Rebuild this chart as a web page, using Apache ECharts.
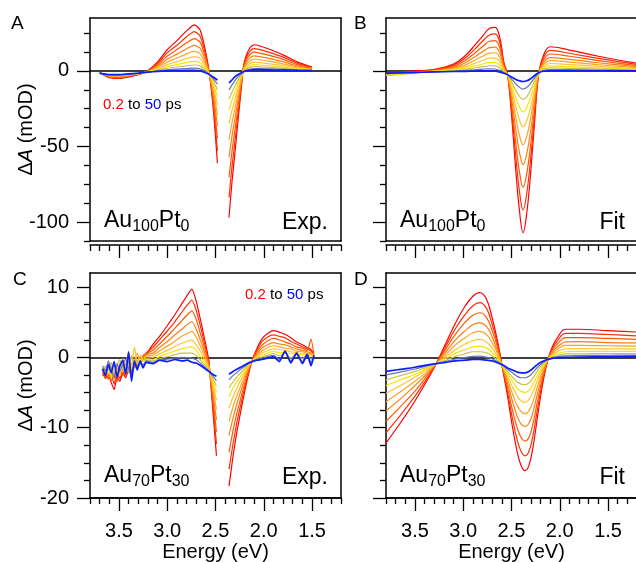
<!DOCTYPE html>
<html>
<head>
<meta charset="utf-8">
<script src="https://cdn.jsdelivr.net/npm/echarts@6.0.0/dist/echarts.min.js"></script>
<style>
  html, body { margin: 0; padding: 0; background: #fff; }
  #chart { width: 636px; height: 562px; }
</style>
</head>
<body>
<div id="chart"></div>
<script>
// ---- tick positions ----
const energyMajorTicks = [1.5, 2.0, 2.5, 3.0, 3.5];
const energyMinorTicks = [1.2, 1.3, 1.4, 1.6, 1.7, 1.8, 1.9, 2.1, 2.2, 2.3, 2.4, 2.6, 2.7, 2.8, 2.9, 3.1, 3.2, 3.3, 3.4, 3.6, 3.7, 3.8];
const au100MajorTicks = [-100, -50, 0];
const au100MinorTicks = [-112.5, -87.5, -75, -62.5, -37.5, -25, -12.5, 12.5, 25];
const au70MajorTicks = [-20, -10, 0, 10];
const au70MinorTicks = [-17.5, -15, -12.5, -7.5, -5, -2.5, 2.5, 5, 7.5];

// ---- Au100Pt0, measured (panel A): two spectral windows around the pump ----
// rows run from 0.2 ps (first) to 50 ps (last)
const expAu100LeftE = [3.70, 3.60, 3.50, 3.40, 3.30, 3.20, 3.10, 3.00, 2.90, 2.80, 2.72, 2.66, 2.61, 2.565, 2.52, 2.48];
const expAu100Left = [
  [-1, -4.5, -5, -4, -2.5, 0.3, 6, 14, 20, 26.5, 30.5, 27.2, 15, -1, -27, -61],
  [-1.1, -4.2, -4.6, -3.7, -2.4, 0.1, 5.1, 11.9, 17.0, 22.6, 26.0, 23.1, 12.6, -1.2, -23.6, -52.8],
  [-1.2, -3.9, -4.3, -3.4, -2.2, 0, 4.1, 9.8, 14.1, 18.6, 21.4, 19.0, 10.2, -1.4, -20.2, -44.5],
  [-1.2, -3.6, -3.9, -3.1, -2.05, -0.2, 3.2, 7.7, 11.1, 14.7, 16.9, 15.0, 7.8, -1.6, -16.7, -36.3],
  [-1.3, -3.3, -3.6, -2.8, -1.9, -0.3, 2.3, 5.9, 8.5, 11.3, 13.0, 11.4, 5.7, -1.8, -13.8, -29.1],
  [-1.35, -3.1, -3.25, -2.6, -1.8, -0.5, 1.6, 4.2, 6.1, 8.2, 9.4, 8.2, 3.8, -1.9, -11, -22.5],
  [-1.4, -2.9, -3.0, -2.4, -1.7, -0.6, 1.0, 2.8, 4.2, 5.5, 6.3, 5.4, 2.2, -2.0, -8.8, -17],
  [-1.4, -2.7, -2.8, -2.2, -1.6, -0.7, 0.5, 1.7, 2.6, 3.4, 3.9, 3.3, 0.9, -2.1, -6.9, -12.6],
  [-1.5, -2.6, -2.6, -2.1, -1.55, -0.75, 0, 0.7, 1.2, 1.6, 1.8, 1.4, -0.2, -2.2, -5.3, -8.8],
  [-1.5, -2.5, -2.5, -2, -1.5, -0.8, -0.3, 0, 0.2, 0.3, 0.3, 0, -1, -2.3, -4.2, -6]
];
const expAu100RightE = [2.36, 2.33, 2.30, 2.27, 2.24, 2.21, 2.18, 2.14, 2.10, 2.04, 1.95, 1.80, 1.65, 1.50];
const expAu100Right = [
  [-97, -74, -55, -35, -16, 3, 10.5, 15.5, 17.3, 16.5, 14.5, 10.6, 5.8, 2.5],
  [-83.7, -63.8, -47.4, -30.1, -13.8, 2.5, 8.9, 13.3, 14.8, 14.1, 12.4, 9.1, 5.0, 2.2],
  [-70.3, -53.6, -39.7, -25.3, -11.7, 2.0, 7.4, 11.0, 12.4, 11.8, 10.4, 7.6, 4.2, 1.8],
  [-57, -43.4, -32, -20.4, -9.5, 1.4, 5.8, 8.8, 9.9, 9.4, 8.3, 6.1, 3.3, 1.5],
  [-45.4, -34.6, -25.4, -16.2, -7.6, 1.0, 4.4, 6.8, 7.7, 7.4, 6.5, 4.7, 2.6, 1.2],
  [-34.7, -26.4, -19.3, -12.3, -5.9, 0.6, 3.2, 5.0, 5.8, 5.5, 4.8, 3.5, 2.0, 0.9],
  [-25.8, -19.6, -14.2, -9, -4.4, 0.2, 2.1, 3.5, 4.1, 3.9, 3.5, 2.5, 1.4, 0.7],
  [-18.7, -14.2, -10.1, -6.4, -3.2, -0.1, 1.3, 2.3, 2.8, 2.7, 2.4, 1.7, 1.0, 0.5],
  [-12.5, -9.4, -6.6, -4.1, -2.2, -0.3, 0.5, 1.25, 1.6, 1.6, 1.4, 1.0, 0.6, 0.3],
  [-8, -6, -4, -2.5, -1.5, -0.5, 0, 0.5, 0.8, 0.8, 0.7, 0.5, 0.3, 0.2]
];

// ---- Au100Pt0, fitted (panel B) ----
const fitAu100E = [3.80, 3.55, 3.30, 3.10, 2.98, 2.88, 2.80, 2.73, 2.67, 2.62, 2.58, 2.54, 2.50, 2.46, 2.42, 2.38, 2.34, 2.30, 2.26, 2.22, 2.17, 2.10, 1.90, 1.60, 1.20];
const fitAu100 = [
  [-1, -0.2, 1, 4.5, 10, 17, 23, 28, 28.8, 21.7, 6, -3, -29, -62, -91, -107, -93, -66, -33, -3, 10, 16, 13.8, 9.7, 5],
  [-1.5, -0.6, 0.7, 3.8, 8.5, 14.4, 19.6, 23.8, 24.5, 18.3, 4.9, -2.9, -25.3, -53.5, -78.3, -92, -80, -56.9, -28.5, -2.7, 8.5, 13.6, 11.7, 8.3, 4.25],
  [-2.2, -1.0, 0.5, 3.0, 6.9, 11.9, 16.1, 19.6, 20.1, 15.0, 3.75, -2.85, -21.5, -45.1, -65.7, -77, -67.1, -47.7, -24, -2.5, 6.9, 11.2, 9.7, 6.8, 3.5],
  [-2.8, -1.4, 0.2, 2.3, 5.4, 9.3, 12.65, 15.4, 15.75, 11.6, 2.6, -2.8, -17.75, -36.6, -53, -62, -54.1, -38.6, -19.5, -2.2, 5.4, 8.8, 7.6, 5.4, 2.75],
  [-3.0, -1.6, 0, 1.7, 4.0, 7.1, 9.7, 11.8, 12.0, 8.65, 1.65, -2.7, -14.5, -29.2, -42, -49, -42.8, -30.6, -15.6, -1.95, 4.1, 6.8, 5.85, 4.1, 2.1],
  [-2.9, -1.6, -0.2, 1.1, 2.8, 5.0, 6.9, 8.4, 8.5, 5.95, 0.75, -2.65, -11.5, -22.5, -31.9, -37, -32.5, -23.3, -12, -1.7, 2.9, 4.9, 4.2, 3.0, 1.5],
  [-2.6, -1.5, -0.36, 0.6, 1.8, 3.3, 4.6, 5.6, 5.6, 3.7, 0, -2.6, -9, -16.8, -23.4, -27, -23.8, -17.2, -9, -1.56, 1.8, 3.3, 2.8, 2.0, 1.0],
  [-2.2, -1.3, -0.5, 0.2, 0.9, 1.95, 2.8, 3.4, 3.3, 1.9, -0.6, -2.56, -7, -12.3, -16.6, -19, -16.9, -12.3, -6.6, -1.4, 1.0, 2.0, 1.7, 1.25, 0.6],
  [-1.8, -1.2, -0.6, -0.15, 0.2, 0.75, 1.15, 1.4, 1.25, 0.3, -1.1, -2.5, -5.25, -8.3, -10.7, -12, -10.8, -8, -4.5, -1.3, 0.3, 0.9, 0.8, 0.6, 0.25],
  [-1.5, -1.1, -0.7, -0.4, -0.3, -0.1, 0, 0, -0.2, -0.8, -1.5, -2.5, -4, -5.5, -6.5, -7, -6.5, -5, -3, -1.2, -0.2, 0.1, 0.1, 0.1, 0]
];

// ---- Au70Pt30, measured (panel C) ----
const expAu70LeftE = [3.67, 3.64, 3.61, 3.58, 3.55, 3.52, 3.49, 3.46, 3.43, 3.40, 3.37, 3.34, 3.31, 3.28, 3.25, 3.22, 3.15, 3.08, 3.00, 2.92, 2.85, 2.79, 2.745, 2.70, 2.65, 2.61, 2.57, 2.53, 2.49];
const expAu70Left = [
  [-2.2, -3.0, -2.4, -3.6, -4.6, -2.8, -3.4, -2.2, -2.9, -1.8, -2.3, -1.2, -1.0, -0.5, -0.1, 0.4, 1.8, 3, 4.5, 6.1, 7.6, 8.9, 9.7, 8.0, 5.0, 2.4, -0.4, -7, -14],
  [-2.6, -2.0, -3.1, -2.5, -3.8, -2.2, -3.0, -1.9, -2.6, -1.4, -2.0, -0.8, -1.2, -0.2, 0.1, 0.6, 1.4, 2.5, 3.75, 5.1, 6.4, 7.5, 8.15, 6.7, 4.1, 1.8, -0.6, -6.3, -12.3],
  [-1.9, -2.8, -2.2, -3.3, -2.6, -3.5, -1.8, -2.6, -1.5, -2.2, -0.9, -1.5, -0.4, -0.8, 0.3, 0.5, 1.0, 1.9, 3.0, 4.15, 5.2, 6.1, 6.6, 5.4, 3.1, 1.2, -0.9, -5.6, -10.6],
  [-2.4, -1.7, -2.9, -2.0, -3.0, -1.6, -2.4, -1.2, -2.7, -0.6, -1.8, -0.2, -1.0, 0.2, -0.3, 0.4, 0.6, 1.4, 2.25, 3.2, 4.0, 4.7, 5.1, 4.0, 2.2, 0.6, -1.1, -4.9, -8.9],
  [-1.8, -2.5, -1.5, -2.7, -1.9, -2.3, -0.8, -2.1, -0.9, 0.8, -1.4, -0.5, 0.6, -0.6, 0.1, 0.2, 0.3, 0.9, 1.6, 2.3, 3.0, 3.4, 3.7, 2.9, 1.4, 0.1, -1.3, -4.3, -7.4],
  [-2.1, -1.4, -2.4, -1.2, -2.2, -1.0, -2.6, -0.6, -1.7, -0.3, -1.2, 1.5, -0.8, 0.2, -0.4, 0.1, 0, 0.5, 1.0, 1.55, 2.0, 2.3, 2.5, 1.8, 0.7, -0.4, -1.5, -3.8, -6.1],
  [-1.5, -2.3, -1.1, -2.9, -0.8, -2.0, -1.4, -0.2, -2.2, 0.9, -1.6, -0.4, -0.9, -0.2, -0.6, -0.2, -0.3, 0.1, 0.5, 0.9, 1.2, 1.4, 1.5, 1.0, 0, -0.8, -1.7, -3.3, -5],
  [-2.3, -1.2, -1.8, -0.7, -2.5, -1.1, -0.3, -1.9, -0.8, -2.2, 0.3, -1.3, -0.6, -1.0, -0.3, -0.4, -0.5, -0.2, 0.1, 0.4, 0.6, 0.6, 0.6, 0.3, -0.5, -1.1, -1.8, -2.95, -4.1],
  [-1.2, -2.0, -0.5, -1.7, -2.9, -0.9, -1.9, -1.0, -0.2, -1.6, -2.7, -0.3, -1.5, -0.7, -1.1, -0.5, -0.7, -0.4, -0.25, -0.1, 0, -0.03, -0.1, -0.35, -0.9, -1.4, -1.9, -2.6, -3.3],
  [-1.6, -2.6, -1.0, -2.2, -0.6, -2.8, -1.2, -0.4, -2.4, 0.8, -3.4, -0.6, -1.8, -0.5, -1.5, -0.7, -0.9, -0.4, -0.6, -0.3, -0.5, -0.4, -0.7, -0.8, -1.2, -1.6, -2.0, -2.4, -2.7]
];
const expAu70RightE = [2.36, 2.32, 2.28, 2.24, 2.20, 2.16, 2.12, 2.07, 2.02, 1.96, 1.90, 1.84, 1.78, 1.72, 1.66, 1.60, 1.55, 1.51, 1.48];
const expAu70Right = [
  [-18.3, -14.2, -10.7, -7.8, -5.0, -2.5, -0.4, 1.3, 2.6, 3.4, 3.8, 3.6, 3.3, 2.8, 2.2, 1.8, 1.4, 1.1, 0.6],
  [-15.9, -12.4, -9.35, -6.8, -4.4, -2.25, -0.43, 1.05, 2.2, 2.9, 3.2, 3.0, 2.8, 2.3, 1.9, 1.5, 1.2, 0.9, 0.5],
  [-13.5, -10.5, -8.0, -5.9, -3.8, -2.0, -0.46, 0.8, 1.7, 2.35, 2.7, 2.5, 2.2, 1.9, 1.5, 1.3, 1.0, 2.6, 0.4],
  [-11.1, -8.7, -6.65, -4.9, -3.2, -1.7, -0.5, 0.5, 1.3, 1.8, 2.1, 1.9, 1.8, 1.5, 1.2, 1.0, 0.8, 0.6, 0.3],
  [-9.1, -7.1, -5.5, -4.1, -2.7, -1.5, -0.5, 0.3, 0.9, 1.4, 1.65, 1.5, 1.3, 1.2, 0.9, 0.8, 0.6, 0.5, 0.25],
  [-7.2, -5.7, -4.4, -3.3, -2.3, -1.3, -0.54, 0.1, 0.6, 0.95, 1.2, 1.1, 1.0, 0.8, 0.7, 0.5, 0.4, 0.35, 0.2],
  [-5.6, -4.4, -3.5, -2.7, -1.9, -1.14, -0.56, -0.06, 0.3, 0.6, 0.84, 0.7, 0.65, 0.55, 0.45, 0.35, 0.3, 0.2, 0.1],
  [-4.3, -3.5, -2.8, -2.2, -1.6, -1.0, -0.58, -0.2, 0.05, 0.3, 0.55, 0.2, 0.7, -0.1, 0.5, -0.2, 0.4, -0.3, 0.2],
  [-3.2, -2.6, -2.15, -1.7, -1.3, -0.9, -0.6, -0.3, -0.15, 0.1, 0.3, -0.3, 0.8, -0.5, 0.6, -0.6, 0.5, -0.8, 0.3],
  [-2.4, -2.0, -1.7, -1.4, -1.1, -0.8, -0.6, -0.4, -0.3, -0.1, 0.1, -0.6, 0.9, -0.8, 0.6, -0.9, 0.4, -1.2, 0.3]
];

// ---- Au70Pt30, fitted (panel D) ----
const fitAu70E = [3.80, 3.65, 3.50, 3.38, 3.28, 3.18, 3.08, 2.98, 2.90, 2.83, 2.76, 2.70, 2.64, 2.59, 2.54, 2.49, 2.44, 2.40, 2.36, 2.32, 2.28, 2.23, 2.18, 2.13, 2.08, 2.02, 1.94, 1.80, 1.50, 1.20];
const fitAu70 = [
  [-12.2, -9.3, -6.2, -3.4, -0.9, 2.0, 4.9, 7.3, 8.7, 9.2, 8.3, 5.6, 2.0, -1.8, -5.6, -9.9, -13.5, -15.4, -16.1, -15.4, -13.0, -8.4, -4.0, -0.7, 1.4, 2.9, 4.0, 4.0, 3.8, 3.6],
  [-10.7, -8.2, -5.5, -3.1, -0.9, 1.6, 4.1, 6.1, 7.35, 7.8, 7.0, 4.7, 1.6, -1.7, -5.0, -8.7, -11.8, -13.4, -14.0, -13.4, -11.3, -7.3, -3.5, -0.64, 1.15, 2.45, 3.4, 3.4, 3.25, 3.05],
  [-9.1, -7.0, -4.8, -2.7, -0.9, 1.2, 3.3, 5.0, 6.0, 6.35, 5.7, 3.8, 1.2, -1.6, -4.4, -7.5, -10.1, -11.4, -11.9, -11.4, -9.6, -6.2, -3.0, -0.58, 0.95, 2.0, 2.8, 2.8, 2.7, 2.55],
  [-7.6, -5.9, -4.0, -2.4, -0.9, 0.8, 2.5, 3.8, 4.65, 4.9, 4.4, 2.9, 0.7, -1.5, -3.75, -6.25, -8.4, -9.5, -9.8, -9.4, -7.9, -5.1, -2.5, -0.5, 0.7, 1.55, 2.2, 2.25, 2.1, 2.05],
  [-6.3, -4.9, -3.4, -2.1, -0.9, 0.4, 1.8, 2.8, 3.5, 3.7, 3.25, 2.1, 0.4, -1.4, -3.2, -5.2, -6.9, -7.7, -8.0, -7.6, -6.4, -4.1, -2.0, -0.47, 0.5, 1.2, 1.7, 1.7, 1.65, 1.6],
  [-5.1, -4.0, -2.8, -1.8, -0.9, 0.1, 1.1, 1.9, 2.4, 2.55, 2.2, 1.3, 0, -1.3, -2.7, -4.2, -5.5, -6.2, -6.4, -6.0, -5.0, -3.2, -1.6, -0.42, 0.3, 0.85, 1.2, 1.25, 1.2, 1.2],
  [-4.0, -3.2, -2.4, -1.6, -0.9, -0.16, 0.6, 1.1, 1.5, 1.6, 1.35, 0.7, -0.24, -1.24, -2.3, -3.4, -4.4, -4.8, -5.0, -4.7, -3.9, -2.5, -1.3, -0.38, 0.16, 0.55, 0.8, 0.85, 0.84, 0.85],
  [-3.2, -2.6, -2.0, -1.4, -0.9, -0.4, 0.15, 0.5, 0.8, 0.8, 0.65, 0.2, -0.46, -1.2, -2.0, -2.8, -3.5, -3.8, -3.9, -3.6, -3.0, -1.9, -1.0, -0.35, 0.04, 0.3, 0.5, 0.5, 0.55, 0.55],
  [-2.5, -2.1, -1.65, -1.2, -0.9, -0.56, -0.23, 0, 0.15, 0.18, 0.03, -0.2, -0.66, -1.1, -1.7, -2.2, -2.7, -2.9, -2.9, -2.7, -2.2, -1.4, -0.8, -0.32, -0.07, 0.1, 0.2, 0.25, 0.3, 0.32],
  [-2.0, -1.7, -1.4, -1.1, -0.9, -0.7, -0.5, -0.4, -0.3, -0.3, -0.4, -0.5, -0.8, -1.1, -1.5, -1.8, -2.1, -2.2, -2.2, -2.0, -1.6, -1.0, -0.6, -0.3, -0.15, -0.05, 0, 0.05, 0.1, 0.15]
];

// ---- styling ----
const FONT = "'Liberation Sans', Arial, Helvetica, sans-serif";
const curveColors = ['#ff0000', '#ff2e00', '#ff5800', '#ff7e10', '#ffa224', '#ffc430', '#f8e400', '#c6c44a', '#6a72b4', '#0a1eff'];
const curveWidths = [1.2, 1.2, 1.2, 1.2, 1.2, 1.2, 1.2, 1.2, 1.2, 1.7];
const frameLine = { color: '#000', width: 1.5 };
const tickLine = { color: '#000', width: 1.3 };

const panels = [
  { box: { left: 90, top: 18, width: 251, height: 223 }, yMin: -112.5, yMax: 35, yMajor: au100MajorTicks, yMinor: au100MinorTicks, xLabels: false, yLabels: true, xOffset: 4 },
  { box: { left: 386, top: 18, width: 251, height: 223 }, yMin: -112.5, yMax: 35, yMajor: au100MajorTicks, yMinor: au100MinorTicks, xLabels: false, yLabels: false, xOffset: 4 },
  { box: { left: 90, top: 273, width: 251, height: 225 }, yMin: -20, yMax: 12, yMajor: au70MajorTicks, yMinor: au70MinorTicks, xLabels: true, yLabels: true, xOffset: 0 },
  { box: { left: 386, top: 273, width: 251, height: 225 }, yMin: -20, yMax: 12, yMajor: au70MajorTicks, yMinor: au70MinorTicks, xLabels: true, yLabels: false, xOffset: 0 }
];

const grid = [], xAxis = [], yAxis = [], series = [];

panels.forEach((p, g) => {
  grid.push(Object.assign({ containLabel: false, outerBoundsMode: 'none', show: false }, p.box));

  const xb = { gridIndex: g, type: 'value', min: 1.2, max: 3.8, inverse: true, splitLine: { show: false }, silent: true };
  const hidden = { axisTick: { show: false }, axisLabel: { show: false } };
  // energy axis with major ticks and labels
  xAxis.push(Object.assign({}, xb, {
    position: 'bottom', offset: p.xOffset,
    axisLine: { show: true, onZero: false, lineStyle: frameLine },
    axisTick: { show: true, customValues: energyMajorTicks, length: 13, lineStyle: tickLine },
    axisLabel: { show: p.xLabels, customValues: energyMajorTicks, formatter: v => v.toFixed(1), fontSize: 20, fontFamily: FONT, color: '#000', margin: 23 },
    name: p.xLabels ? 'Energy (eV)' : '', nameLocation: 'middle', nameGap: 44, nameMoveOverlap: false,
    nameTextStyle: { fontSize: 20, fontFamily: FONT, color: '#000' }
  }));
  // minor energy ticks
  xAxis.push(Object.assign({}, xb, {
    position: 'bottom', offset: p.xOffset,
    axisLine: { show: false, onZero: false },
    axisTick: { show: true, customValues: energyMinorTicks, length: 6, lineStyle: tickLine },
    axisLabel: { show: false }
  }));
  // frame: top and bottom edges
  xAxis.push(Object.assign({}, xb, hidden, { position: 'top', axisLine: { show: true, onZero: false, lineStyle: frameLine } }));
  xAxis.push(Object.assign({}, xb, hidden, { position: 'bottom', offset: 0, axisLine: { show: true, onZero: false, lineStyle: frameLine } }));
  // zero line
  xAxis.push(Object.assign({}, xb, hidden, { position: 'bottom', axisLine: { show: true, onZero: true, lineStyle: frameLine } }));

  const yb = { gridIndex: g, type: 'value', min: p.yMin, max: p.yMax, splitLine: { show: false }, silent: true };
  yAxis.push(Object.assign({}, yb, {
    position: 'left',
    axisLine: { show: true, onZero: false, lineStyle: frameLine },
    axisTick: { show: true, customValues: p.yMajor, length: 13, lineStyle: tickLine },
    axisLabel: { show: p.yLabels, customValues: p.yMajor, fontSize: 20, fontFamily: FONT, color: '#000', margin: 21 },
    name: p.yLabels ? '{d|Δ}{i|A}{d| (mOD)}' : '', nameLocation: 'middle', nameRotate: 90, nameGap: 54, nameMoveOverlap: false,
    nameTextStyle: {
      fontSize: 20, fontFamily: FONT, color: '#000',
      rich: { d: { fontSize: 20, fontFamily: FONT, color: '#000' }, i: { fontSize: 20, fontFamily: FONT, fontStyle: 'italic', color: '#000' } }
    }
  }));
  yAxis.push(Object.assign({}, yb, {
    position: 'left',
    axisLine: { show: false, onZero: false },
    axisTick: { show: true, customValues: p.yMinor, length: 6, lineStyle: tickLine },
    axisLabel: { show: false }
  }));
  yAxis.push(Object.assign({}, yb, hidden, { position: 'right', axisLine: { show: true, onZero: false, lineStyle: frameLine } }));
});

// one line per delay; segments of the same delay are added together so later delays sit on top
function addSpectra(g, segments, smooth) {
  const n = segments[0][1].length;
  for (let i = 0; i < n; i++) {
    segments.forEach(([energies, rows]) => {
      series.push({
        type: 'line', xAxisIndex: 5 * g, yAxisIndex: 3 * g,
        data: energies.map((e, k) => [e, rows[i][k]]),
        symbol: 'none', showSymbol: false, smooth: smooth,
        lineStyle: { color: curveColors[i], width: curveWidths[i] },
        silent: true, animation: false, z: 3
      });
    });
  }
}
addSpectra(0, [[expAu100LeftE, expAu100Left], [expAu100RightE, expAu100Right]], 0.2);
addSpectra(1, [[fitAu100E, fitAu100]], 0.4);
addSpectra(2, [[expAu70LeftE, expAu70Left], [expAu70RightE, expAu70Right]], 0.15);
addSpectra(3, [[fitAu70E, fitAu70]], 0.4);

// panel annotations
const txt = (extra, style) => Object.assign({ type: 'text', silent: true }, extra, {
  style: Object.assign({ fill: '#000', fontFamily: FONT }, style)
});
const formulaRich = {
  m: { fontSize: 23, fontFamily: FONT, fill: '#000', lineHeight: 28 },
  s: { fontSize: 16, fontFamily: FONT, fill: '#000', lineHeight: 14, verticalAlign: 'bottom' }
};
const delayRich = {
  r: { fontSize: 15, fontFamily: FONT, fill: '#ff0000' },
  b: { fontSize: 15, fontFamily: FONT, fill: '#0000ff' },
  k: { fontSize: 15, fontFamily: FONT, fill: '#000' }
};
const graphic = [
  txt({ left: 11, top: 14 }, { text: 'A', fontSize: 19 }),
  txt({ left: 354, top: 14 }, { text: 'B', fontSize: 19 }),
  txt({ left: 13, top: 270 }, { text: 'C', fontSize: 19 }),
  txt({ left: 354, top: 270 }, { text: 'D', fontSize: 19 }),
  txt({ left: 104, top: 209 }, { text: '{m|Au}{s|100}{m|Pt}{s|0}', rich: formulaRich }),
  txt({ left: 400, top: 209 }, { text: '{m|Au}{s|100}{m|Pt}{s|0}', rich: formulaRich }),
  txt({ left: 104, top: 464 }, { text: '{m|Au}{s|70}{m|Pt}{s|30}', rich: formulaRich }),
  txt({ left: 400, top: 464 }, { text: '{m|Au}{s|70}{m|Pt}{s|30}', rich: formulaRich }),
  txt({ right: 308, top: 211 }, { text: 'Exp.', fontSize: 23 }),
  txt({ right: 11, top: 211 }, { text: 'Fit', fontSize: 23 }),
  txt({ right: 308, top: 466 }, { text: 'Exp.', fontSize: 23 }),
  txt({ right: 11, top: 466 }, { text: 'Fit', fontSize: 23 }),
  txt({ left: 103, top: 97 }, { text: '{r|0.2}{k| to }{b|50}{k| ps}', rich: delayRich }),
  txt({ left: 245, top: 287 }, { text: '{r|0.2}{k| to }{b|50}{k| ps}', rich: delayRich })
];

const chart = echarts.init(document.getElementById('chart'), null, { renderer: 'canvas', width: 636, height: 562 });
chart.setOption({
  animation: false,
  backgroundColor: '#ffffff',
  grid: grid,
  xAxis: xAxis,
  yAxis: yAxis,
  series: series,
  graphic: graphic
});
</script>
</body>
</html>
